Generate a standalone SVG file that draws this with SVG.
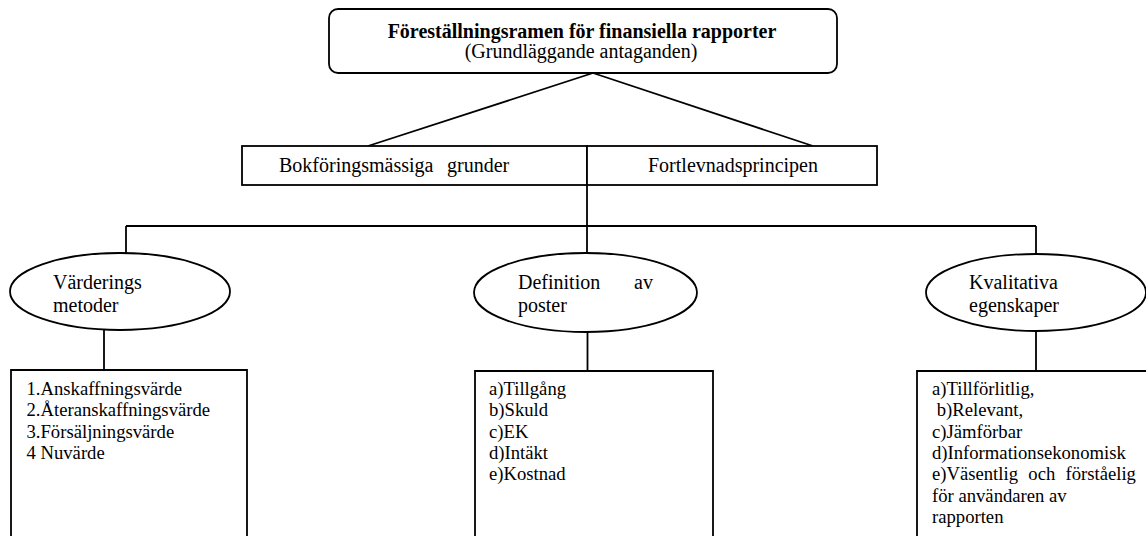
<svg xmlns="http://www.w3.org/2000/svg" width="1146" height="536" viewBox="0 0 1146 536">
<style>
text{font-family:"Liberation Serif","Times New Roman",serif;fill:#000}
.t20{font-size:20px}
.b{font-weight:bold}
.t18{font-size:18.67px}
.shape{fill:#fff;stroke:#000;stroke-width:1.8}
.conn line{stroke:#000;stroke-width:1.8}
</style>
<rect width="1146" height="536" fill="#fff"/>
<g class="conn">
<line x1="593" y1="73" x2="368" y2="146"/>
<line x1="593" y1="73" x2="813" y2="146"/>
<line x1="587" y1="185" x2="587" y2="253"/>
<line x1="126" y1="226" x2="1036" y2="226"/>
<line x1="126" y1="226" x2="126" y2="253"/>
<line x1="1036" y1="226" x2="1036" y2="254"/>
<line x1="104" y1="330" x2="104" y2="370"/>
<line x1="587.5" y1="332" x2="587.5" y2="371"/>
<line x1="1036" y1="331" x2="1036" y2="371"/>
</g>
<g id="root">
<rect class="shape" x="329" y="9" width="508" height="64" rx="9"/>
<text class="t20 b" x="582" y="38" text-anchor="middle">Föreställningsramen för finansiella rapporter</text>
<text class="t20" x="581" y="58" text-anchor="middle">(Grundläggande antaganden)</text>
</g>
<g id="grunder">
<rect class="shape" x="242" y="146" width="345" height="39"/>
<text class="t20" x="279" y="172">Bokföringsmässiga</text>
<text class="t20" x="447" y="172">grunder</text>
</g>
<g id="fortlevnad">
<rect class="shape" x="587" y="146" width="290" height="39"/>
<text class="t20" x="648" y="172">Fortlevnadsprincipen</text>
</g>
<g id="vardering">
<ellipse class="shape" cx="120" cy="291.5" rx="110" ry="38.5"/>
<text class="t20" x="53" y="289">Värderings</text>
<text class="t20" x="53" y="312">metoder</text>
</g>
<g id="definition">
<ellipse class="shape" cx="585.5" cy="292.5" rx="111.5" ry="39.5"/>
<text class="t20" x="518" y="289">Definition</text>
<text class="t20" x="634" y="289">av</text>
<text class="t20" x="518" y="312">poster</text>
</g>
<g id="kvalitativa">
<ellipse class="shape" cx="1036" cy="292.5" rx="110" ry="38.5"/>
<text class="t20" x="969" y="289">Kvalitativa</text>
<text class="t20" x="969" y="312">egenskaper</text>
</g>
<g id="metoder-list">
<path class="shape" d="M11 540 V370 H247 V540"/>
<text class="t18" x="26.5" y="395">1.Anskaffningsvärde</text>
<text class="t18" x="26.5" y="416.3">2.Återanskaffningsvärde</text>
<text class="t18" x="26.5" y="437.6">3.Försäljningsvärde</text>
<text class="t18" x="26.5" y="458.9">4 Nuvärde</text>
</g>
<g id="poster-list">
<path class="shape" d="M475 540 V371 H713 V540"/>
<text class="t18" x="489" y="395">a)Tillgång</text>
<text class="t18" x="489" y="416.3">b)Skuld</text>
<text class="t18" x="489" y="437.6">c)EK</text>
<text class="t18" x="489" y="458.9">d)Intäkt</text>
<text class="t18" x="489" y="480.2">e)Kostnad</text>
</g>
<g id="egenskaper-list">
<path class="shape" d="M917 540 V371 H1150"/>
<text class="t18" x="932" y="395">a)Tillförlitlig,</text>
<text class="t18" x="936.7" y="416.3">b)Relevant,</text>
<text class="t18" x="932" y="437.6">c)Jämförbar</text>
<text class="t18" x="932" y="458.9">d)Informationsekonomisk</text>
<text class="t18" x="932" y="480.2">e)Väsentlig</text>
<text class="t18" x="1028.3" y="480.2">och</text>
<text class="t18" x="1065.5" y="480.2">förståelig</text>
<text class="t18" x="932" y="501.5">för användaren av</text>
<text class="t18" x="932" y="522.8">rapporten</text>
</g>
</svg>
